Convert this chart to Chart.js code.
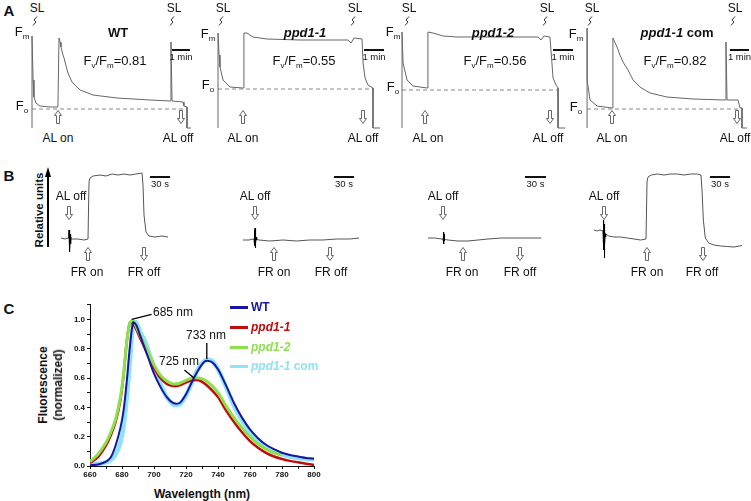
<!DOCTYPE html>
<html>
<head>
<meta charset="utf-8">
<script src="https://cdn.jsdelivr.net/npm/chart.js@4.4.0/dist/chart.umd.min.js"></script>
<style>
  body { margin: 0; background: #fff; }
  #fig { position: relative; width: 751px; height: 501px; overflow: hidden;
         font-family: "Liberation Sans", Arial, sans-serif; color: #111; }
  #fig canvas { position: absolute; }
  #fig svg { position: absolute; overflow: visible; }
  .t { position: absolute; white-space: nowrap; transform: translate(-50%, -50%);
       font-size: 12px; line-height: 1; }
  .t sub { font-size: 8px; vertical-align: -3px; }
  .bar { position: absolute; height: 2px; background: #111; }
  .key { position: absolute; height: 3px; width: 18px; }
</style>
</head>
<body>
<div id="fig"></div>
<script>
// ---- panel C: emission spectra ----
const wavelength = [660,665,670,673,676,679,681,683,685,687,689,691,694,697,700,704,708,712,716,720,724,728,732,736,740,745,750,755,760,765,770,775,780,785,790,795,800];
const wtSpectrum    = [0.005,0.01,0.03,0.06,0.14,0.26,0.38,0.58,0.82,0.98,0.96,0.90,0.81,0.72,0.63,0.54,0.47,0.43,0.43,0.49,0.58,0.66,0.715,0.71,0.66,0.55,0.43,0.33,0.25,0.19,0.145,0.115,0.09,0.075,0.065,0.055,0.05];
const ppd11Spectrum = [0.02,0.06,0.14,0.21,0.30,0.45,0.62,0.85,0.98,0.97,0.93,0.88,0.81,0.74,0.67,0.60,0.56,0.545,0.55,0.57,0.585,0.585,0.56,0.52,0.47,0.38,0.30,0.23,0.17,0.125,0.09,0.065,0.048,0.035,0.025,0.015,0.008];
const ppd12Spectrum = [0.03,0.08,0.16,0.23,0.32,0.47,0.63,0.85,0.98,0.99,0.95,0.90,0.83,0.76,0.69,0.62,0.58,0.56,0.565,0.585,0.60,0.60,0.585,0.55,0.50,0.41,0.33,0.26,0.20,0.15,0.115,0.09,0.075,null,null,null,null];
const comSpectrum   = [0.01,0.015,0.025,0.04,0.08,0.16,0.27,0.47,0.72,0.97,0.98,0.92,0.86,0.77,0.67,0.56,0.47,0.42,0.42,0.48,0.58,0.67,0.72,0.72,0.66,0.54,0.41,0.31,0.23,0.17,0.13,0.10,0.08,0.065,0.055,0.048,0.045];
const xTicks = [660,680,700,720,740,760,780,800];
const yTicks = [0.0,0.2,0.4,0.6,0.8,1.0];
// leader lines of the peak labels: [x1, y1, x2, y2] in data units
const peakLeaders = [[686,1.0,698.5,1.035],[733,0.73,733,0.84],[725,0.6,719,0.655]];

// ---- panel A: chlorophyll fluorescence traces (time in min, relative units) ----
const wtTraceA = [[0,0.02],[0,0.94],[0.06,0.50],[0.11,0.33],[0.22,0.27],[0.44,0.24],[1.0,0.23],[1.44,0.23],[1.5,0.92],[1.56,0.88],[1.61,0.83],[1.72,0.75],[1.78,0.72],[1.89,0.64],[2.0,0.57],[2.22,0.48],[2.67,0.40],[3.39,0.35],[4.72,0.32],[6.56,0.30],[7.67,0.29],[7.72,0.88],[7.78,0.29],[8.39,0.28],[8.44,0.24],[8.61,0.23],[8.61,0.02],[8.83,0.02]];
const ppd11TraceA = [[0,0.02],[0,0.97],[0.06,0.75],[0.11,0.63],[0.28,0.50],[0.67,0.43],[1.39,0.42],[1.44,0.97],[1.61,0.97],[1.94,0.93],[2.72,0.91],[4.56,0.90],[7.22,0.90],[7.39,0.87],[7.56,0.92],[8.0,0.91],[8.06,0.67],[8.17,0.52],[8.33,0.45],[8.61,0.42],[8.61,0.02],[9.0,0.02]];
const ppd12TraceA = [[0,0.02],[0,0.98],[0.06,0.67],[0.28,0.50],[0.61,0.44],[1.39,0.42],[1.44,0.98],[1.72,0.97],[2.28,0.94],[3.06,0.93],[5.44,0.93],[7.56,0.93],[7.72,0.90],[7.89,0.94],[8.22,0.93],[8.33,0.67],[8.39,0.52],[8.56,0.45],[8.67,0.42],[8.67,0.02],[9.06,0.02]];
const comTraceA = [[0,0.02],[0,1.02],[0.01,0.50],[0.17,0.30],[0.56,0.24],[1.39,0.22],[1.44,0.92],[1.67,0.83],[1.83,0.75],[2.0,0.68],[2.28,0.60],[2.56,0.50],[2.94,0.43],[3.5,0.37],[4.44,0.33],[5.89,0.31],[7.67,0.30],[7.72,0.88],[7.78,0.30],[8.39,0.30],[8.5,0.22],[8.61,0.22],[8.61,0.02],[8.89,0.02]];
const foLevels = [0.21, 0.41, 0.40, 0.21];
const foEnds = [8.61, 8.61, 8.67, 8.61];

// ---- panel B: P700 traces (time in s, relative units) ----
const wtTraceB = [[0,0.32],[6,0.31],[10.5,0.32],[16.5,0.31],[25.5,0.31],[34.5,0.30],[40.5,0.31],[42,0.88],[43.5,0.92],[48,0.94],[58.5,0.95],[67.5,0.94],[76.5,0.96],[85.5,0.95],[94.5,0.96],[103.5,0.95],[112.5,0.96],[121.5,0.97],[123,0.85],[124.5,0.55],[127.5,0.38],[132,0.34],[141,0.33],[151.5,0.34],[160.5,0.33]];
const wtSpikeB = [[11.5,0.32],[12,0.40],[12.45,0.18],[12.9,0.38],[13.35,0.21],[13.8,0.36],[14.4,0.26],[15,0.33]];
const ppd11TraceB = [[0,0.30],[9,0.30],[15,0.31],[24,0.30],[40,0.29],[60,0.30],[80,0.29],[100,0.30],[120,0.30],[140,0.31],[160,0.31],[174,0.32]];
const ppd11SpikeB = [[16.5,0.31],[17.2,0.40],[17.6,0.24],[18,0.42],[18.4,0.22],[18.8,0.36],[19.3,0.27],[19.8,0.33],[20.5,0.30]];
const ppd12TraceB = [[0,0.32],[10,0.32],[20,0.31],[30,0.30],[45,0.29],[60,0.29],[75,0.30],[90,0.31],[110,0.32],[130,0.32],[150,0.32],[170,0.32]];
const ppd12SpikeB = [[22.5,0.32],[23.3,0.38],[23.7,0.26],[24.1,0.36],[24.5,0.29],[25,0.32]];
const comTraceB = [[0,0.40],[5,0.39],[9,0.40],[14,0.39],[18,0.36],[22,0.34],[30,0.33],[40,0.33],[50,0.32],[60,0.31],[70,0.30],[78,0.31],[79.5,0.88],[81,0.93],[86,0.95],[95,0.96],[105,0.95],[115,0.96],[125,0.96],[135,0.95],[145,0.96],[155,0.96],[160.5,0.95],[162,0.80],[164,0.50],[167,0.32],[172,0.27],[180,0.25],[190,0.24],[200,0.235],[210,0.23],[222,0.245]];
const comSpikeB = [[13.5,0.39],[14.2,0.50],[14.6,0.20],[15,0.46],[15.4,0.12],[15.8,0.40],[16.3,0.26],[16.8,0.36],[17.5,0.33]];

Chart.defaults.font.family = '"Liberation Sans", Arial, sans-serif';
const fig = document.getElementById('fig');
const SVGNS = 'http://www.w3.org/2000/svg';

function put(html, x, y, style) {
  const d = document.createElement('div');
  d.className = 't';
  d.innerHTML = html;
  d.style.left = x + 'px';
  d.style.top = y + 'px';
  if (style) d.style.cssText += style;
  fig.appendChild(d);
  return d;
}
function svgShape(x, y, w, h, inner) {
  const s = document.createElementNS(SVGNS, 'svg');
  s.setAttribute('width', w); s.setAttribute('height', h);
  s.style.left = (x - w / 2) + 'px'; s.style.top = (y - h / 2) + 'px';
  s.innerHTML = inner;
  fig.appendChild(s);
}
// hollow block arrow, 8 x 14 px, centred on (x, y)
function arrow(x, y, up) {
  const pts = up
    ? '4,0.5 7.5,5.5 5.5,5.5 5.5,13.5 2.5,13.5 2.5,5.5 0.5,5.5'
    : '4,13.5 7.5,8.5 5.5,8.5 5.5,0.5 2.5,0.5 2.5,8.5 0.5,8.5';
  svgShape(x, y, 8, 14, '<polygon points="' + pts + '" fill="#fff" stroke="#666" stroke-width="1"/>');
}
function squiggle(x, y) {
  svgShape(x, y, 6, 10, '<polyline points="1,9.5 4,6 2,4 5,0.5" fill="none" stroke="#333" stroke-width="1"/>');
}
function bar(x1, x2, y) {
  const d = document.createElement('div');
  d.className = 'bar';
  d.style.left = x1 + 'px'; d.style.width = (x2 - x1) + 'px'; d.style.top = y + 'px';
  fig.appendChild(d);
}
function canvasAt(left, top, w, h) {
  const cv = document.createElement('canvas');
  cv.width = w; cv.height = h;
  cv.style.left = left + 'px'; cv.style.top = top + 'px';
  fig.appendChild(cv);
  return cv;
}
function line(points, color, width, dash) {
  return {
    data: points.map(p => ({ x: p[0], y: p[1] })),
    borderColor: color, borderWidth: width, borderDash: dash || [],
    pointRadius: 0, tension: 0, fill: false
  };
}
function traceChart(left, top, w, h, pad, pxPerX, datasets) {
  return new Chart(canvasAt(left, top, w, h), {
    type: 'line',
    data: { datasets },
    options: {
      responsive: false, animation: false, events: [],
      layout: { padding: 0 },
      plugins: { legend: { display: false }, tooltip: { enabled: false } },
      scales: {
        x: { type: 'linear', display: false, min: -pad / pxPerX, max: (w - pad) / pxPerX },
        y: { type: 'linear', display: false, min: 0, max: h / 100 }
      }
    }
  });
}

// panel A charts
const aLeft = [32, 218, 402, 587];
const aTraces = [wtTraceA, ppd11TraceA, ppd12TraceA, comTraceA];
aTraces.forEach((tr, i) => {
  traceChart(aLeft[i] - 6, 20, 172, 110, 6, 18, [
    line(tr, '#666', 1),
    line([[0, foLevels[i]], [foEnds[i], foLevels[i]]], '#888', 1, [4, 3])
  ]);
});

// panel B charts
const bLeft = [61, 243, 428, 594];
const bTraces = [wtTraceB, ppd11TraceB, ppd12TraceB, comTraceB];
const bSpikes = [wtSpikeB, ppd11SpikeB, ppd12SpikeB, comSpikeB];
bTraces.forEach((tr, i) => {
  traceChart(bLeft[i] - 8, 160, 190, 110, 8, 2 / 3, [
    line(bSpikes[i], '#000', 1),
    line(tr, '#555', 1)
  ]);
});

// panel C chart
const leaders = {
  id: 'leaders',
  afterDatasetsDraw(chart) {
    const { ctx, scales: { x, y } } = chart;
    ctx.save();
    ctx.strokeStyle = '#000';
    ctx.lineWidth = 1.3;
    peakLeaders.forEach(([x1, y1, x2, y2]) => {
      ctx.beginPath();
      ctx.moveTo(x.getPixelForValue(x1), y.getPixelForValue(y1));
      ctx.lineTo(x.getPixelForValue(x2), y.getPixelForValue(y2));
      ctx.stroke();
    });
    ctx.restore();
  }
};
const spec = (arr, color, width) => ({
  data: wavelength.map((w, i) => ({ x: w, y: arr[i] })),
  borderColor: color, borderWidth: width, pointRadius: 0, tension: 0.3, fill: false
});
new Chart(canvasAt(60, 298, 262, 184), {
  type: 'line',
  data: {
    datasets: [
      spec(wtSpectrum, '#1616a2', 2),
      spec(ppd12Spectrum, '#8ee04a', 3),
      spec(ppd11Spectrum, '#c20c0c', 2.5),
      spec(comSpectrum, '#8fe3f5', 4.5)
    ]
  },
  options: {
    responsive: false, animation: false, events: [],
    layout: { padding: { top: 5, right: 8, left: 0, bottom: 0 } },
    plugins: { legend: { display: false }, tooltip: { enabled: false } },
    scales: {
      x: {
        type: 'linear', min: 660, max: 800,
        afterFit(s) { s.height = 16; },
        border: { display: true, color: '#111', width: 1 },
        grid: { drawOnChartArea: false, drawTicks: true, tickLength: 3, color: '#111' },
        ticks: {
          stepSize: 10, autoSkip: false, maxRotation: 0, padding: 1, color: '#111',
          font: { size: 8, weight: 'bold' },
          callback: v => xTicks.includes(v) ? v : ''
        }
      },
      y: {
        type: 'linear', min: 0, max: 1.1,
        afterFit(s) { s.width = 30; },
        border: { display: true, color: '#111', width: 1 },
        grid: { drawOnChartArea: false, drawTicks: true, tickLength: 3, color: '#111' },
        ticks: {
          stepSize: 0.1, autoSkip: false, padding: 2, color: '#111',
          font: { size: 8, weight: 'bold' },
          callback: v => yTicks.some(t => Math.abs(t - v) < 1e-6) ? v.toFixed(1) : ''
        }
      }
    }
  },
  plugins: [leaders]
});

// ---- panel A text ----
put('<b>A</b>', 9, 10, 'font-size:15px');
[[37,174],[223,355],[409,547],[592,735]].forEach(p => p.forEach(x => {
  put('SL', x, 8);
  squiggle(x - 2, 21);
}));
[[22,33,107],[208,35,86],[393,33,88],[576,35,108]].forEach(([x, ym, yo]) => {
  put('F<sub>m</sub>', x, ym, 'font-size:13px');
  put('F<sub>o</sub>', x, yo, 'font-size:13px');
});
put('<b>WT</b>', 118, 32, 'font-size:13px');
put('<b><i>ppd1-1</i></b>', 305, 32, 'font-size:13px');
put('<b><i>ppd1-2</i></b>', 493, 32, 'font-size:13px');
put('<b><i>ppd1-1</i> com</b>', 677, 32, 'font-size:13px');
put('F<sub>v</sub>/F<sub>m</sub>=0.81', 115, 62, 'font-size:13px');
put('F<sub>v</sub>/F<sub>m</sub>=0.55', 304, 62, 'font-size:13px');
put('F<sub>v</sub>/F<sub>m</sub>=0.56', 495, 62, 'font-size:13px');
put('F<sub>v</sub>/F<sub>m</sub>=0.82', 675, 62, 'font-size:13px');
[[172,190],[364,384],[553,573],[730,749]].forEach(([a, b]) => {
  bar(a, b, 49);
  put('1 min', (a + b) / 2, 57, 'font-size:9.5px');
});
[58, 243, 425, 612].forEach(x => arrow(x, 117, true));
[181, 363, 550, 737].forEach(x => arrow(x, 117, false));
[58, 243, 428, 612].forEach(x => put('AL on', x, 138));
[178, 363, 548, 735].forEach(x => put('AL off', x, 138));

// ---- panel B text ----
put('<b>B</b>', 9, 175, 'font-size:15px');
put('<b>Relative units</b>', 40, 210, 'font-size:11.5px;transform:translate(-50%,-50%) rotate(-90deg)');
const ax = document.createElement('div');
ax.style.cssText = 'position:absolute;left:47px;top:176px;width:2px;height:71px;background:#000';
fig.appendChild(ax);
const head = document.createElement('div');
head.style.cssText = 'position:absolute;left:44.5px;top:167px;width:0;height:0;border-left:3.5px solid transparent;border-right:3.5px solid transparent;border-bottom:10px solid #000';
fig.appendChild(head);
[[71,69],[255,255],[443,443],[604,604]].forEach(([tx, axp]) => {
  put('AL off', tx, 196);
  arrow(axp, 213, false);
});
[[88,87],[274,274],[463,462],[647,647]].forEach(([axp, tx]) => {
  arrow(axp, 254, true);
  put('FR on', tx, 272);
});
[[144,144],[330,331],[520,520],[703,702]].forEach(([axp, tx]) => {
  arrow(axp, 254, false);
  put('FR off', tx, 272);
});
[[150,170],[334,354],[525,546],[710,730]].forEach(([a, b]) => {
  bar(a, b, 176);
  put('30 s', (a + b) / 2, 184, 'font-size:9.5px');
});

// ---- panel C text ----
put('<b>C</b>', 9, 308, 'font-size:15px');
put('<b>Fluorescence</b>', 43, 385, 'font-size:12px;transform:translate(-50%,-50%) rotate(-90deg)');
put('<b>(normalized)</b>', 58, 385, 'font-size:12px;transform:translate(-50%,-50%) rotate(-90deg)');
put('<b>Wavelength (nm)</b>', 202, 494, 'font-size:12px');
put('685 nm', 153, 312, 'transform:translate(0,-50%)');
put('733 nm', 206, 335);
put('725 nm', 179, 361);
const legendRows = [
  ['WT', '#1616a2', 307],
  ['<i>ppd1-1</i>', '#c20c0c', 327],
  ['<i>ppd1-2</i>', '#8ee04a', 347],
  ['<i>ppd1-1</i> com', '#8fe3f5', 366]
];
legendRows.forEach(([txt, col, y]) => {
  const k = document.createElement('div');
  k.className = 'key';
  k.style.left = '230px'; k.style.top = (y - 1.5) + 'px'; k.style.background = col;
  fig.appendChild(k);
  put('<b>' + txt + '</b>', 251, y, 'transform:translate(0,-50%);color:' + col);
});
</script>
</body>
</html>
